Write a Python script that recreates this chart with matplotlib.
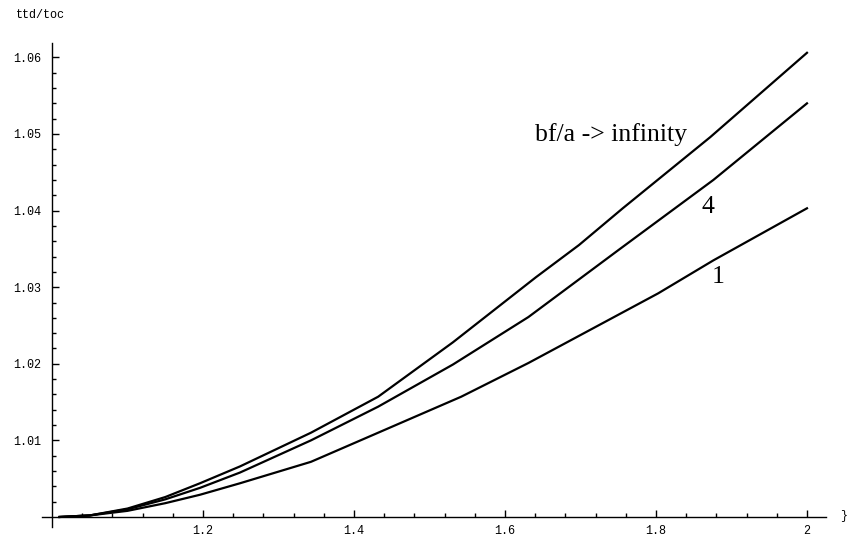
import numpy as np
import matplotlib.pyplot as plt
from matplotlib.ticker import FixedLocator

# ratio ttd/toc against x for three values of bf/a
x_inf = [1.01, 1.05, 1.10, 1.15, 1.196, 1.249, 1.343, 1.432, 1.531, 1.641, 1.698, 1.756, 1.872, 2.0]
y_inf = [1.0, 1.0002, 1.0011, 1.0026, 1.0044, 1.0066, 1.0110, 1.0157, 1.0228, 1.0313, 1.0355, 1.0403, 1.0496, 1.0606]

x_4 = [1.01, 1.05, 1.10, 1.15, 1.196, 1.249, 1.343, 1.432, 1.531, 1.631, 1.751, 1.876, 2.0]
y_4 = [1.0, 1.0002, 1.0010, 1.0023, 1.0038, 1.0058, 1.0100, 1.0144, 1.0199, 1.0261, 1.0349, 1.0440, 1.0540]

x_1 = [1.01, 1.05, 1.10, 1.15, 1.196, 1.249, 1.343, 1.432, 1.542, 1.631, 1.803, 1.876, 2.0]
y_1 = [1.0, 1.0002, 1.0008, 1.0018, 1.0029, 1.0044, 1.0072, 1.0110, 1.0157, 1.0201, 1.0292, 1.0335, 1.0403]

x_major = [1.2, 1.4, 1.6, 1.8, 2.0]
x_labels = ['1.2', '1.4', '1.6', '1.8', '2']
y_major = [1.01, 1.02, 1.03, 1.04, 1.05, 1.06]
y_labels = ['1.01', '1.02', '1.03', '1.04', '1.05', '1.06']

W, H = 848, 536
fig = plt.figure(figsize=(W / 100, H / 100), dpi=100)
fig.patch.set_facecolor('white')
ax = fig.add_axes([42 / W, 9 / H, 784 / W, 484 / H])

for xs, ys in [(x_inf, y_inf), (x_4, y_4), (x_1, y_1)]:
    ax.plot(xs, ys, color='black', linewidth=1.6, solid_joinstyle='round')

ax.set_xlim(0.98675, 2.0252)
ax.set_ylim(0.99869, 1.06188)

# axes cross at (1, 1)
ax.spines['left'].set_position(('data', 1.0))
ax.spines['bottom'].set_position(('data', 1.0))
ax.spines['right'].set_visible(False)
ax.spines['top'].set_visible(False)
for s in ('left', 'bottom'):
    ax.spines[s].set_linewidth(1.0)

ax.xaxis.set_major_locator(FixedLocator(x_major))
ax.set_xticklabels(x_labels)
ax.xaxis.set_minor_locator(FixedLocator(np.arange(1.04, 2.01, 0.04)))
ax.yaxis.set_major_locator(FixedLocator(y_major))
ax.set_yticklabels(y_labels)
ax.yaxis.set_minor_locator(FixedLocator(np.arange(1.002, 1.0605, 0.002)))

mono = 'Liberation Mono'
ax.tick_params(axis='both', which='major', direction='in', length=5, width=1.0,
               labelsize=8.5, pad=6)
ax.tick_params(axis='y', which='major', pad=8)
ax.tick_params(axis='both', which='minor', direction='in', length=3, width=1.0)
for lab in ax.get_xticklabels() + ax.get_yticklabels():
    lab.set_family(mono)

serif = 'Liberation Serif'
ax.text(1.741, 1.0499, 'bf/a -> infinity', family=serif, fontsize=18.5,
        ha='center', va='center')
ax.text(1.869, 1.0405, '4', family=serif, fontsize=18.5, ha='center', va='center')
ax.text(1.882, 1.0313, '1', family=serif, fontsize=18.5, ha='center', va='center')

fig.text(40 / W, 1 - 15 / H, 'ttd/toc', family=mono, fontsize=8.5, ha='center', va='center')
fig.text(840 / W, 1 - 516 / H, '}', family=mono, fontsize=8.5, ha='left', va='center')

fig.savefig('out.png', dpi=100)
